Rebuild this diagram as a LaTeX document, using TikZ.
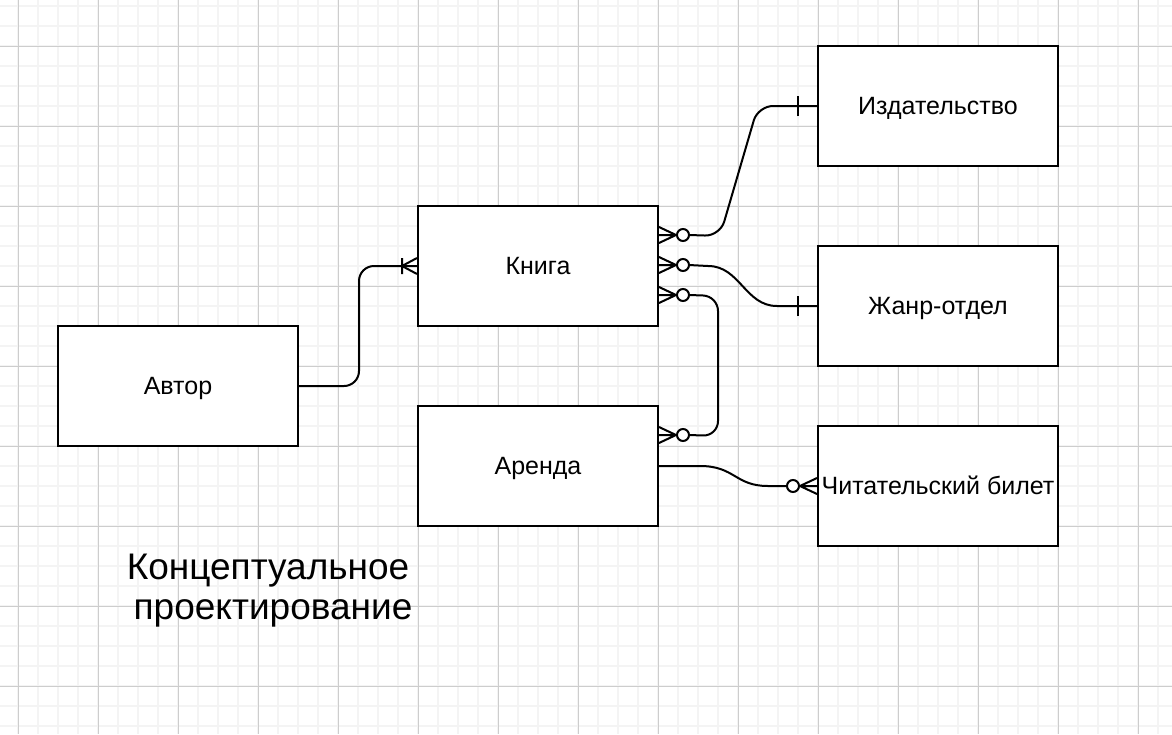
\documentclass[tikz,border=0pt]{standalone}
\usepackage{fontspec}
\setmainfont{Liberation Sans}
\usetikzlibrary{calc}
\definecolor{gridminor}{HTML}{F4F4F4}
\definecolor{gridmajor}{HTML}{CDCDCD}
\begin{document}
\begin{tikzpicture}[x=1pt,y=-1pt,
  entity/.style={draw, line width=2pt, fill=white, minimum width=240pt, minimum height=120pt, inner sep=0pt, text height=17pt, text depth=0pt, font=\fontsize{25}{29}\selectfont},
  conn/.style={line width=2pt},
  zmany/.pic={\draw[line width=2pt] (0,-8) -- (17,0) -- (0,8) (0,0) -- (18,0); \draw[line width=2pt, fill=white] (24,0) circle[radius=6pt];},
  onebar/.pic={\draw[line width=2pt] (19,-10) -- (19,10);},
  onemany/.pic={\draw[line width=2pt] (0,-8) -- (15,0) -- (0,8) (15,-8) -- (15,8);},
  ]
\useasboundingbox (0,0) rectangle (1172,734);
\fill[white] (0,0) rectangle (1172,734);
\foreach \x in {-2,18,...,1178} \draw[gridminor, line width=1.3pt] (\x,0) -- (\x,734);
\foreach \y in {6,26,...,734} \draw[gridminor, line width=1.3pt] (0,\y) -- (1172,\y);
\foreach \x in {18,98,...,1172} \draw[gridmajor, line width=1pt] (\x,0) -- (\x,734);
\foreach \y in {46,126,...,734} \draw[gridmajor, line width=1pt] (0,\y) -- (1172,\y);

\node[entity] (avtor) at (178,386) {Автор};
\node[entity] (kniga) at (538,266) {Книга};
\node[entity] (arenda) at (538,466) {Аренда};
\node[entity] (izd) at (938,106) {Издательство};
\node[entity] (zhanr) at (938,306) {Жанр-отдел};
\node[entity] (chit) at (938,486) {Читательский билет};

\coordinate (k1) at ($(kniga.north east)+(0,30)$);
\coordinate (k2) at ($(kniga.north east)+(0,60)$);
\coordinate (k3) at ($(kniga.north east)+(0,90)$);
\coordinate (a1) at ($(arenda.north east)+(0,30)$);

% Автор -- Книга
\draw[conn, rounded corners=15pt] (avtor.east) -- ++(60,0) |- (kniga.west);
\pic[rotate=180] at (kniga.west) {onemany};

% Книга -- Издательство
\draw[conn, rounded corners=15pt] ($(k1)+(30,0)$) -- (720,236) -- (758,106) -- (izd.west);
\pic at (k1) {zmany};
\pic[rotate=180] at (izd.west) {onebar};

% Книга -- Жанр-отдел
\draw[conn] ($(k2)+(30,0)$) -- (708,266) .. controls (740,266) and (745,306) .. (777,306) -- (zhanr.west);
\pic at (k2) {zmany};
\pic[rotate=180] at (zhanr.west) {onebar};

% Книга -- Аренда
\draw[conn, rounded corners=15pt] ($(k3)+(30,0)$) -- (718,296) -- (718,436) -- ($(a1)+(30,0)$);
\pic at (k3) {zmany};
\pic at (a1) {zmany};

% Аренда -- Читательский билет
\draw[conn] (arenda.east) -- (700,466) .. controls (735,466) and (735,486) .. (768,486) -- ($(chit.west)+(-30,0)$);
\pic[rotate=180] at (chit.west) {zmany};

\node[font=\fontsize{37}{40}\selectfont, align=center, inner sep=0pt] (title) at (273,591) {Концептуальное\hbox to 10pt{}\\проектирование};
\end{tikzpicture}
\end{document}
